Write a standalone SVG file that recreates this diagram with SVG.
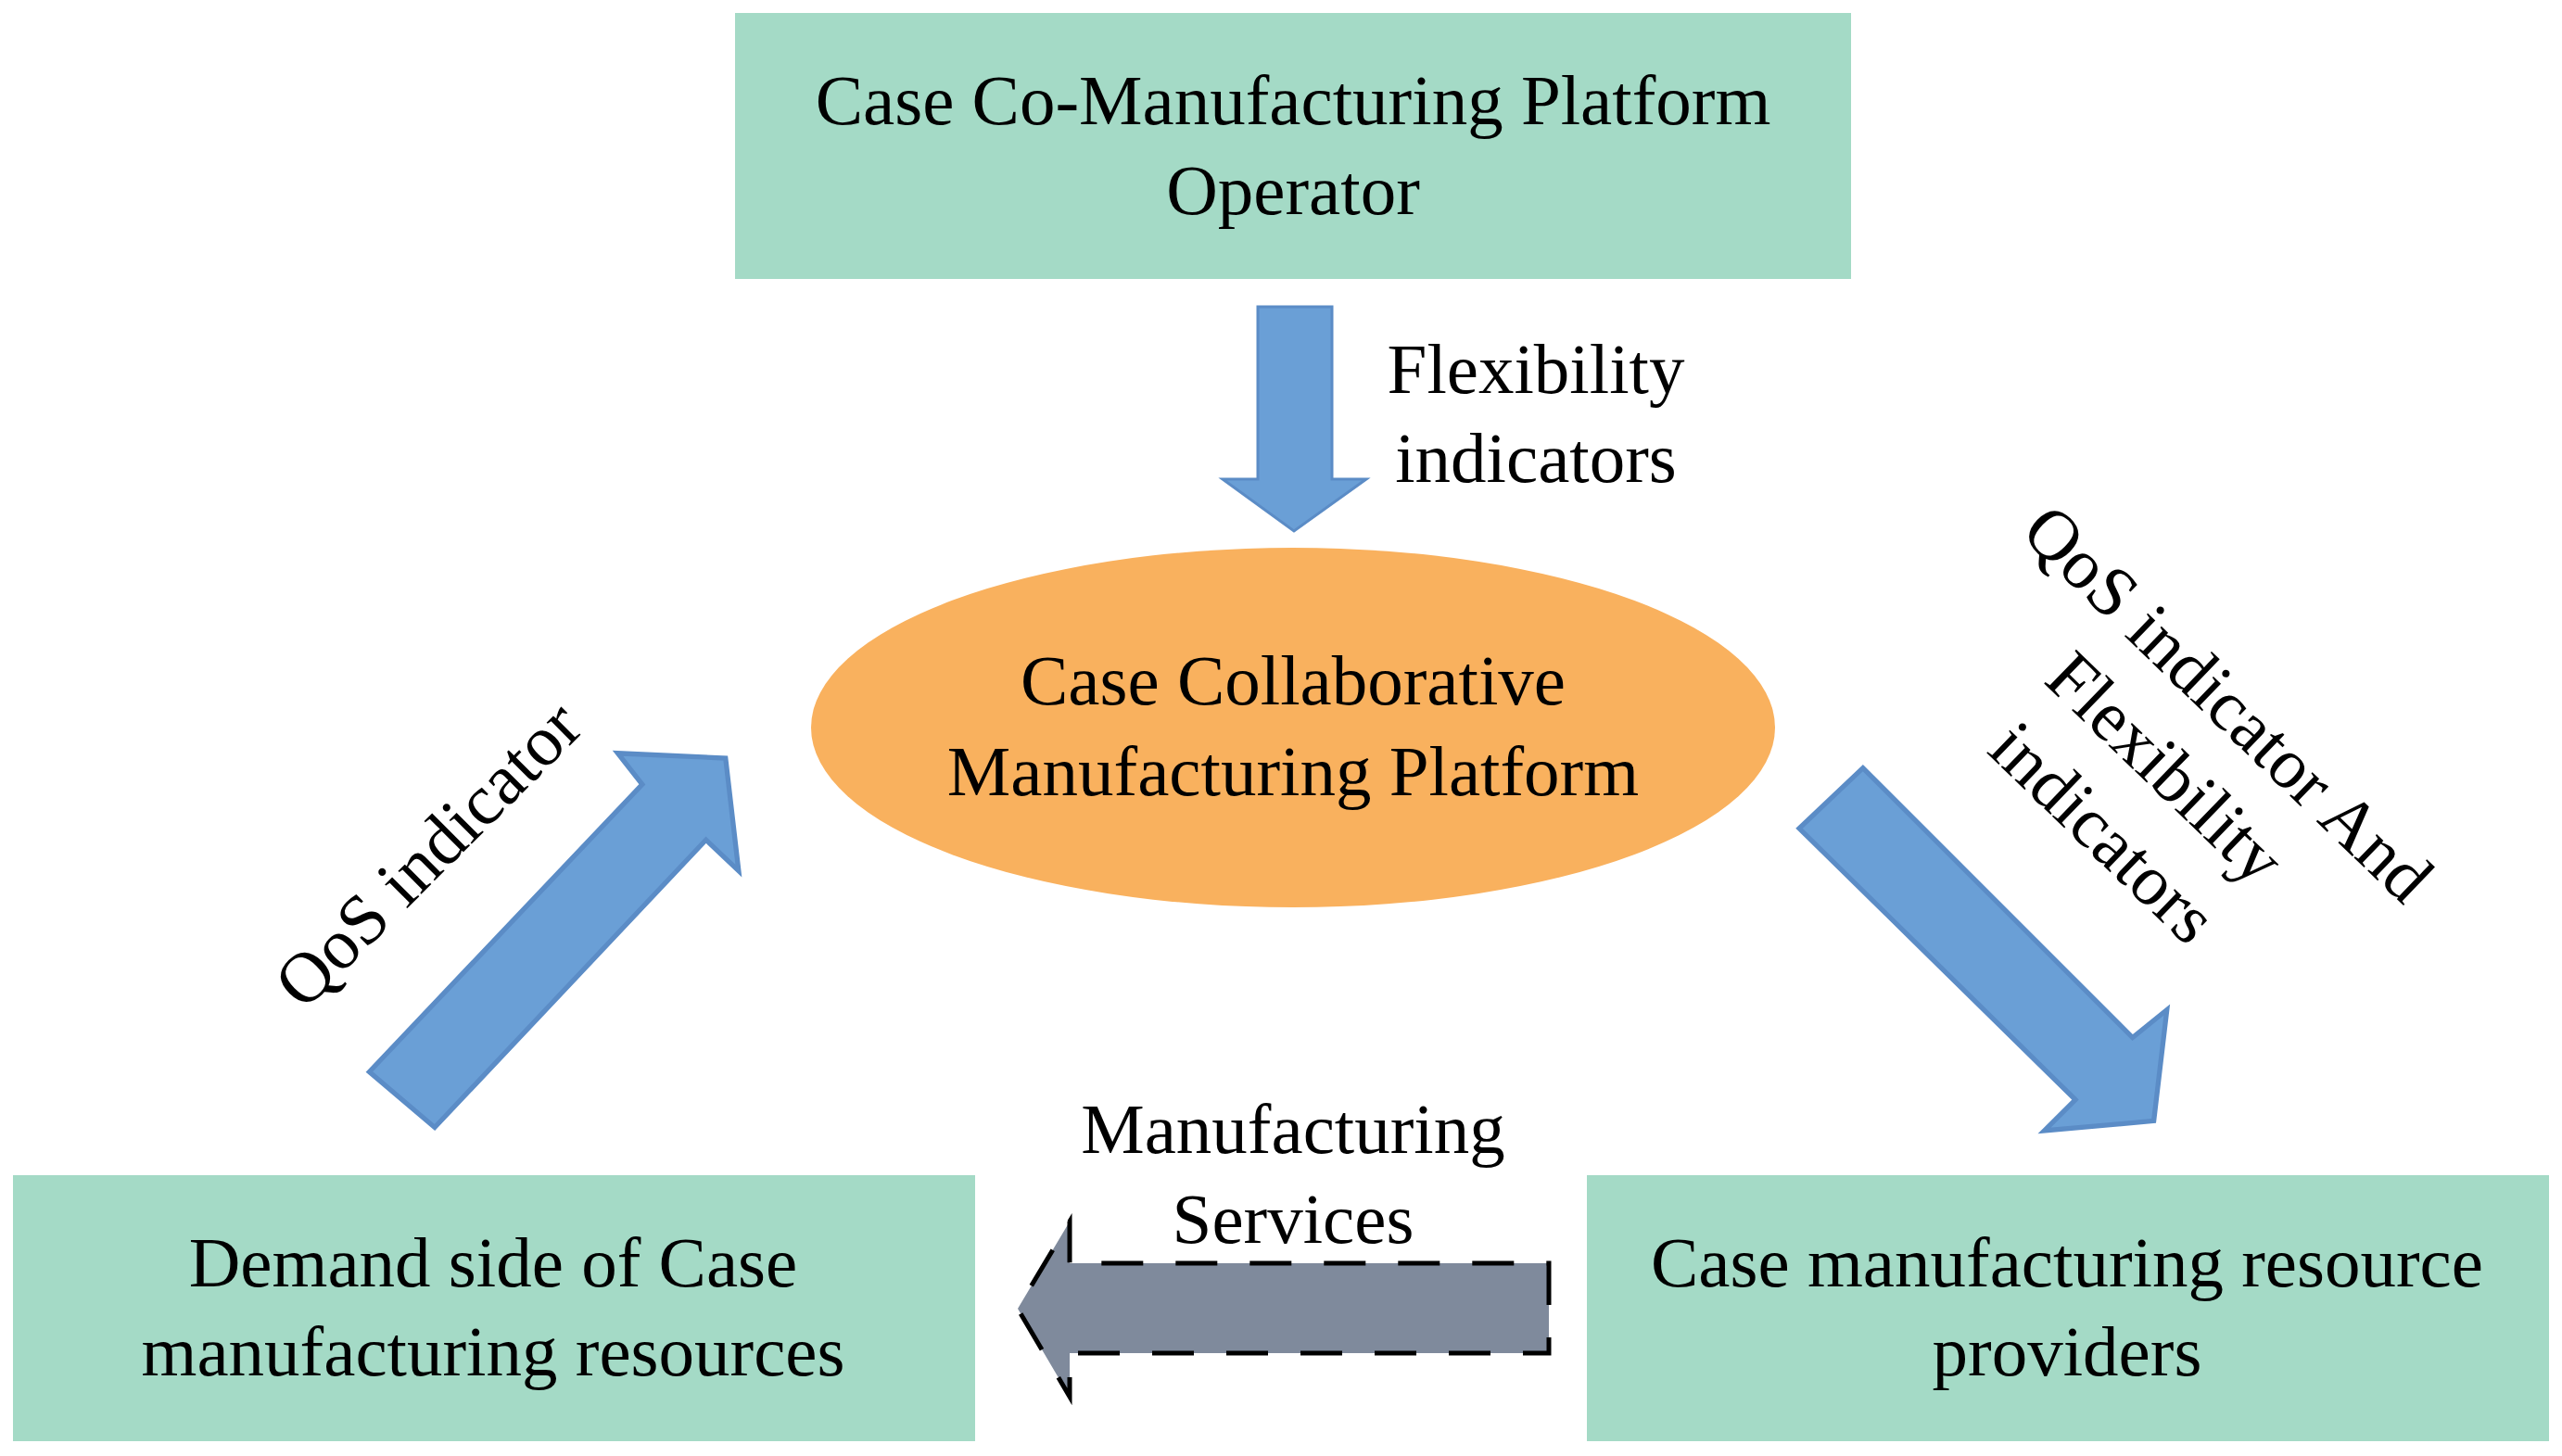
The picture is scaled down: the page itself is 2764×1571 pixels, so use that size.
<svg xmlns="http://www.w3.org/2000/svg" width="2764" height="1571" viewBox="0 0 2764 1571">
<style>
.box{fill:#a4dac6;}
.t{font-family:"Liberation Serif",serif;font-size:77px;fill:#000;text-anchor:middle;}
.blue{fill:#6a9fd6;stroke:#5b8cc6;stroke-width:3;}
</style>
<rect width="2764" height="1571" fill="#fff"/>
<g id="operator">
<rect class="box" x="793" y="14" width="1204" height="287"/>
<text class="t" x="1395" y="134">Case Co-Manufacturing Platform</text>
<text class="t" x="1395" y="231">Operator</text>
</g>
<g id="platform">
<ellipse cx="1395" cy="785" rx="520" ry="194" fill="#f9b15e"/>
<text class="t" x="1395" y="760">Case Collaborative</text>
<text class="t" x="1395" y="858">Manufacturing Platform</text>
</g>
<g id="demand">
<rect class="box" x="14" y="1268" width="1038" height="287"/>
<text class="t" x="532" y="1388">Demand side of Case</text>
<text class="t" x="532" y="1484">manufacturing resources</text>
</g>
<g id="providers">
<rect class="box" x="1712" y="1268" width="1038" height="287"/>
<text class="t" x="2230" y="1388">Case manufacturing resource</text>
<text class="t" x="2230" y="1484">providers</text>
</g>
<g id="connectors">
<polygon class="blue" points="1357,331 1437,331 1437,517 1474,517 1396,573 1319,517 1357,517"/>
<text class="t" x="1657" y="424">Flexibility</text>
<text class="t" x="1657" y="520">indicators</text>
<polygon class="blue" transform="scale(1.763)" points="226,656 393,480 378,461 444,464 452,533 432,514 266,690"/>
<text class="t" transform="translate(462,922) rotate(-45)" x="0" y="25">QoS indicator</text>
<polygon class="blue" transform="scale(1.763)" points="1140,470 1305,635 1326,618 1318,686 1251,692 1270,673 1101,507"/>
<g transform="translate(2336,829) rotate(44)">
<text class="t" x="0" y="-72">QoS indicator And</text>
<text class="t" x="0" y="25">Flexibility</text>
<text class="t" x="0" y="122">indicators</text>
</g>
<polygon points="1671,1363 1671,1460 1154,1460 1154,1507 1098,1412 1154,1318 1154,1363" fill="#7f8a9c" stroke="#000" stroke-width="5" stroke-dasharray="45,35"/>
<text class="t" x="1395" y="1244">Manufacturing</text>
<text class="t" x="1395" y="1341">Services</text>
</g>
</svg>
